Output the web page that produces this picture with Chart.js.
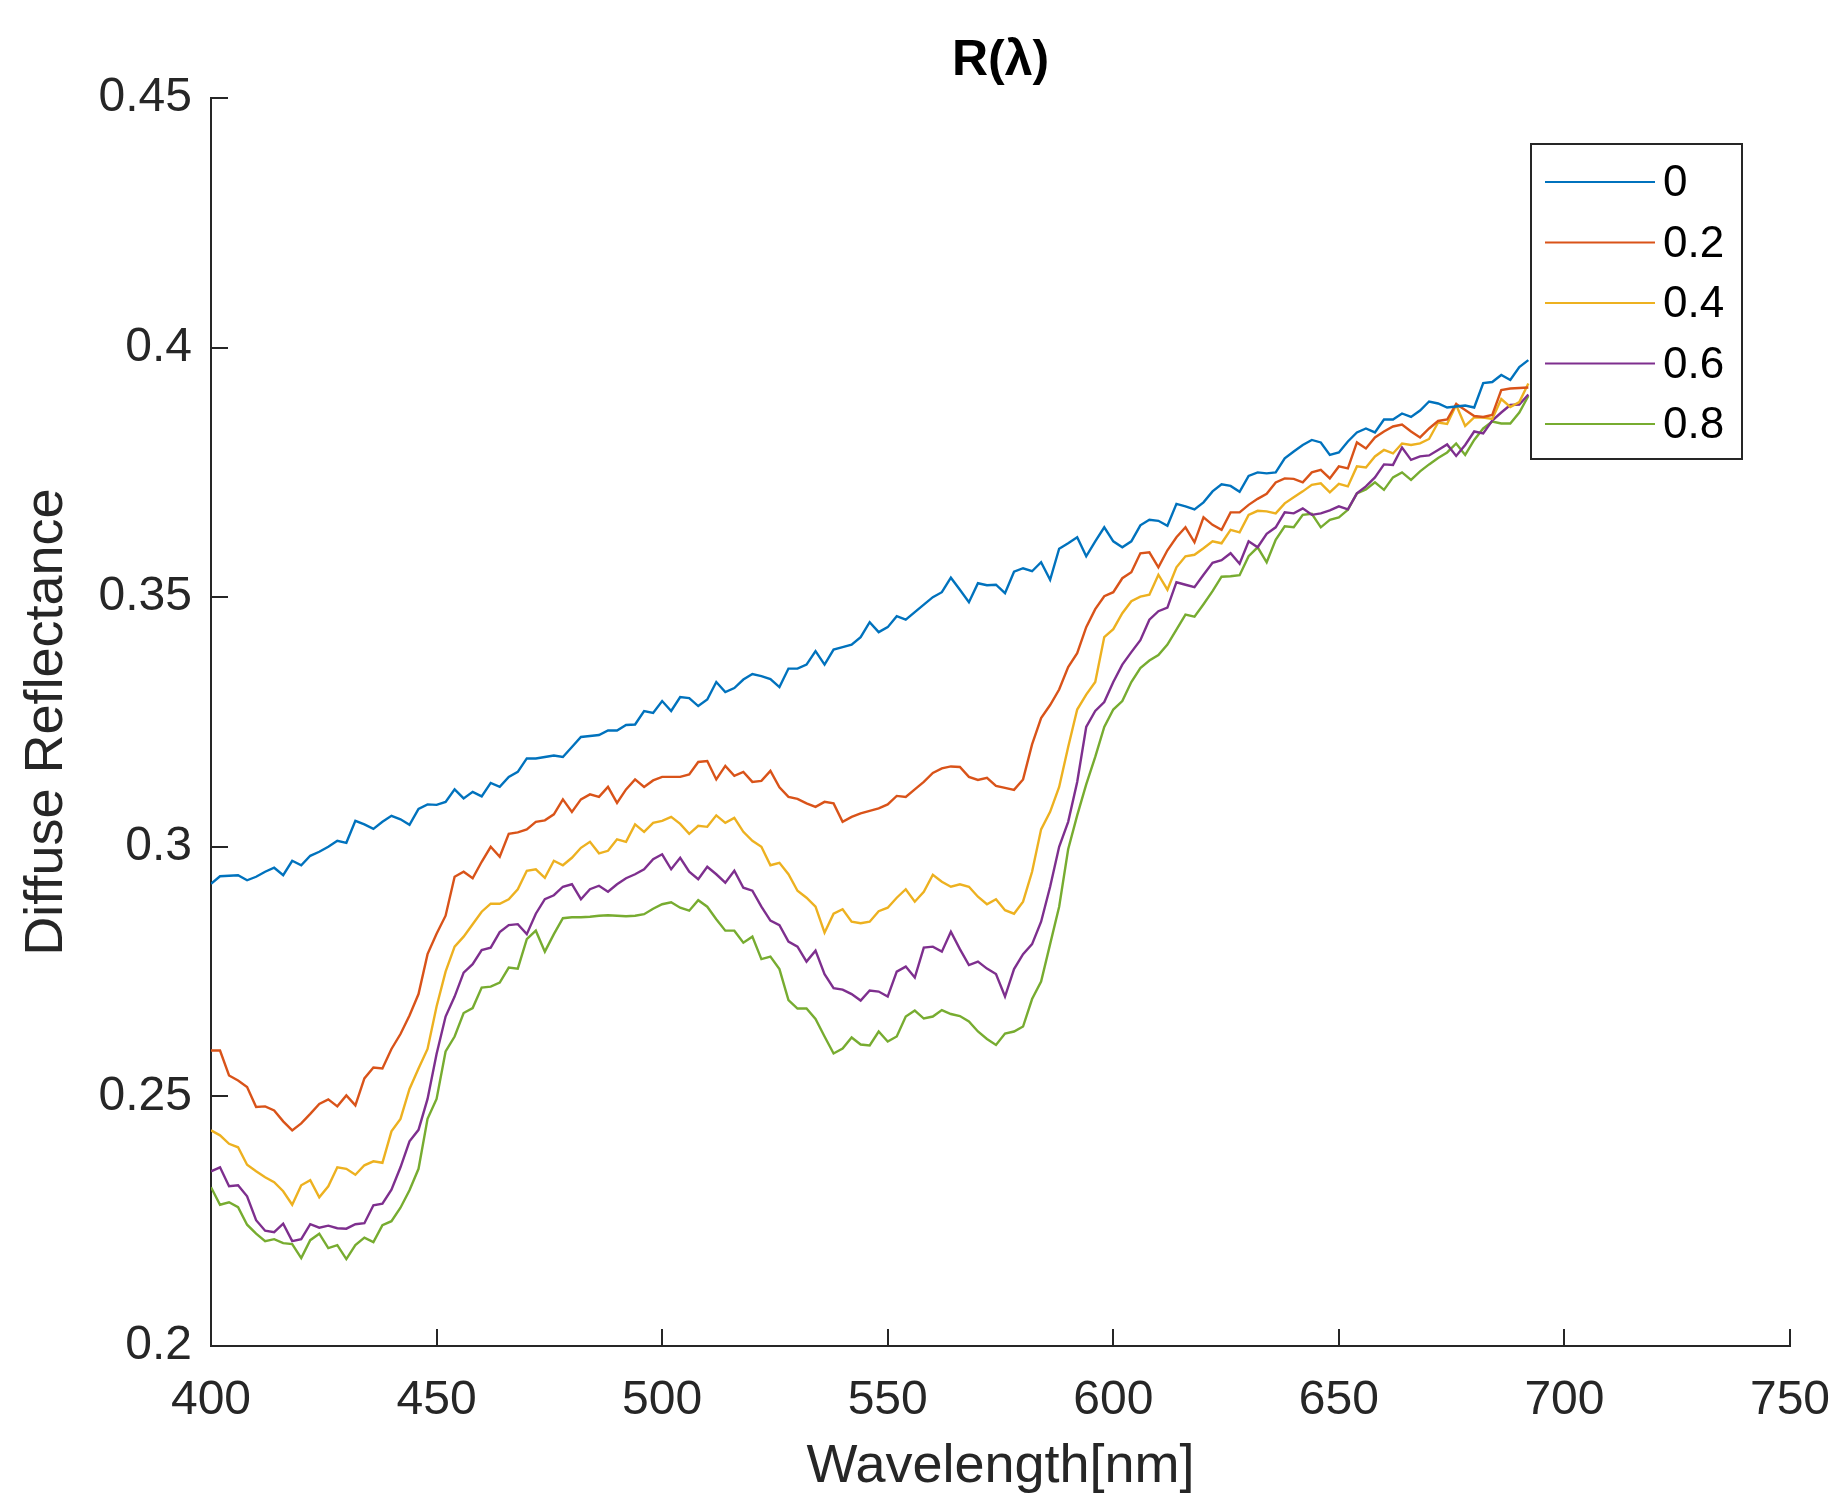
<!DOCTYPE html>
<html>
<head>
<meta charset="utf-8">
<script src="https://cdn.jsdelivr.net/npm/chart.js@4.4.1/dist/chart.umd.min.js"></script>
<style>
  html, body { margin: 0; padding: 0; background: #ffffff; }
  #wrap { width: 1829px; height: 1500px; }
</style>
</head>
<body>
<div id="wrap"><canvas id="c" width="1829" height="1500"></canvas></div>
<script>
// ---------------- data ----------------
const wavelengths = [];
for (let w = 400; w <= 692; w += 2) wavelengths.push(w);

const seriesLabels = ["0", "0.2", "0.4", "0.6", "0.8"];
const seriesColors = ["#0072BD", "#D95319", "#EDB120", "#7E2F8E", "#77AC30"];

const r0 = [
0.2926,0.2941,0.2942,0.2943,0.2933,0.2940,0.2950,0.2958,0.2943,0.2972,
0.2963,0.2982,0.2990,0.3000,0.3012,0.3008,0.3052,0.3045,0.3036,0.3050,
0.3062,0.3055,0.3044,0.3076,0.3085,0.3084,0.3090,0.3115,0.3097,0.3110,
0.3101,0.3128,0.3120,0.3140,0.3150,0.3177,0.3177,0.3180,0.3183,0.3180,
0.3200,0.3220,0.3222,0.3224,0.3233,0.3233,0.3244,0.3245,0.3272,0.3268,
0.3292,0.3272,0.3300,0.3298,0.3282,0.3295,0.3330,0.3310,0.3318,0.3335,
0.3346,0.3342,0.3336,0.3320,0.3357,0.3357,0.3365,0.3392,0.3365,0.3395,
0.3400,0.3405,0.3420,0.3450,0.3430,0.3440,0.3462,0.3455,0.3470,0.3485,
0.3500,0.3510,0.3539,0.3515,0.3490,0.3528,0.3524,0.3525,0.3508,0.3551,
0.3558,0.3552,0.3570,0.3535,0.3597,0.3608,0.3620,0.3582,0.3612,0.3640,
0.3612,0.3600,0.3612,0.3644,0.3655,0.3653,0.3643,0.3687,0.3682,0.3676,
0.3690,0.3712,0.3726,0.3723,0.3711,0.3743,0.3750,0.3748,0.3750,0.3778,
0.3792,0.3805,0.3815,0.3810,0.3785,0.3790,0.3812,0.3830,0.3838,0.3830,
0.3856,0.3856,0.3868,0.3861,0.3874,0.3892,0.3888,0.3880,0.3882,0.3884,
0.3880,0.3929,0.3931,0.3945,0.3935,0.3961,0.3975];

const r02 = [
0.2592,0.2592,0.2542,0.2532,0.2519,0.2479,0.2480,0.2472,0.2450,0.2432,
0.2446,0.2465,0.2485,0.2494,0.2480,0.2502,0.2482,0.2536,0.2558,0.2556,
0.2595,0.2625,0.2662,0.2705,0.2785,0.2826,0.2862,0.2940,0.2950,0.2937,
0.2970,0.3000,0.2980,0.3026,0.3029,0.3035,0.3050,0.3053,0.3065,0.3095,
0.3070,0.3095,0.3105,0.3100,0.3120,0.3088,0.3115,0.3135,0.3120,0.3133,
0.3140,0.3140,0.3140,0.3145,0.3170,0.3172,0.3135,0.3162,0.3142,0.3150,
0.3130,0.3132,0.3152,0.3119,0.3100,0.3096,0.3087,0.3080,0.3090,0.3087,
0.3050,0.3060,0.3067,0.3072,0.3077,0.3085,0.3102,0.3100,0.3115,0.3130,
0.3148,0.3157,0.3161,0.3160,0.3140,0.3134,0.3138,0.3122,0.3118,0.3114,
0.3135,0.3205,0.3258,0.3284,0.3315,0.3360,0.3388,0.3440,0.3476,0.3502,
0.3510,0.3538,0.3550,0.3588,0.3590,0.3560,0.3594,0.3620,0.3640,0.3610,
0.3660,0.3645,0.3635,0.3670,0.3670,0.3685,0.3697,0.3707,0.3730,0.3738,
0.3737,0.3730,0.3750,0.3755,0.3738,0.3762,0.3758,0.3810,0.3798,0.3820,
0.3832,0.3842,0.3846,0.3832,0.3820,0.3838,0.3853,0.3856,0.3887,0.3875,
0.3863,0.3861,0.3865,0.3915,0.3918,0.3919,0.3920];

const r04 = [
0.2432,0.2422,0.2405,0.2398,0.2363,0.2350,0.2338,0.2328,0.2310,0.2283,
0.2322,0.2332,0.2298,0.2320,0.2358,0.2355,0.2343,0.2362,0.2370,0.2367,
0.2430,0.2455,0.2515,0.2556,0.2595,0.2680,0.2750,0.2800,0.2820,0.2845,
0.2870,0.2886,0.2886,0.2895,0.2915,0.2952,0.2955,0.2938,0.2972,0.2963,
0.2978,0.2998,0.3010,0.2987,0.2992,0.3015,0.3010,0.3045,0.3030,0.3048,
0.3052,0.3060,0.3046,0.3026,0.3042,0.3040,0.3063,0.3048,0.3058,0.3030,
0.3012,0.3000,0.2963,0.2968,0.2945,0.2912,0.2898,0.2880,0.2828,0.2866,
0.2875,0.2850,0.2847,0.2850,0.2871,0.2878,0.2898,0.2915,0.2890,0.2910,
0.2944,0.2930,0.2920,0.2925,0.2920,0.2900,0.2885,0.2895,0.2873,0.2866,
0.2890,0.2950,0.3035,0.3070,0.3120,0.3200,0.3275,0.3305,0.3330,0.3420,
0.3436,0.3468,0.3492,0.3501,0.3505,0.3545,0.3515,0.3560,0.3582,0.3585,
0.3598,0.3612,0.3608,0.3635,0.3630,0.3665,0.3673,0.3672,0.3668,0.3688,
0.3700,0.3712,0.3725,0.3728,0.3710,0.3727,0.3722,0.3762,0.3760,0.3782,
0.3795,0.3788,0.3808,0.3805,0.3808,0.3817,0.3850,0.3847,0.3885,0.3843,
0.3860,0.3860,0.3857,0.3897,0.3881,0.3891,0.3928];

const r06 = [
0.2350,0.2358,0.2320,0.2322,0.2300,0.2252,0.2231,0.2228,0.2245,0.2210,
0.2214,0.2244,0.2237,0.2241,0.2236,0.2235,0.2244,0.2246,0.2282,0.2285,
0.2313,0.2358,0.2410,0.2433,0.2495,0.2585,0.2660,0.2700,0.2748,0.2765,
0.2793,0.2798,0.2829,0.2843,0.2845,0.2825,0.2866,0.2895,0.2903,0.2920,
0.2925,0.2895,0.2915,0.2922,0.2910,0.2925,0.2937,0.2945,0.2955,0.2975,
0.2985,0.2955,0.2978,0.2950,0.2935,0.2960,0.2945,0.2928,0.2952,0.2918,
0.2912,0.2880,0.2852,0.2843,0.2810,0.2800,0.2770,0.2792,0.2745,0.2717,
0.2714,0.2705,0.2692,0.2712,0.2710,0.2700,0.2750,0.2760,0.2738,0.2798,
0.2800,0.2790,0.2830,0.2795,0.2763,0.2770,0.2756,0.2745,0.2700,0.2755,
0.2785,0.2805,0.2850,0.2920,0.3000,0.3050,0.3130,0.3240,0.3272,0.3290,
0.3330,0.3365,0.3390,0.3414,0.3455,0.3472,0.3479,0.3530,0.3525,0.3520,
0.3545,0.3569,0.3574,0.3588,0.3567,0.3612,0.3600,0.3627,0.3640,0.3670,
0.3668,0.3678,0.3665,0.3668,0.3674,0.3682,0.3676,0.3708,0.3722,0.3740,
0.3766,0.3765,0.3800,0.3775,0.3782,0.3784,0.3795,0.3806,0.3783,0.3805,
0.3832,0.3828,0.3854,0.3870,0.3885,0.3886,0.3906];

const r08 = [
0.2318,0.2283,0.2288,0.2278,0.2243,0.2225,0.2210,0.2214,0.2206,0.2204,
0.2176,0.2212,0.2225,0.2196,0.2202,0.2174,0.2202,0.2217,0.2208,0.2242,
0.2250,0.2277,0.2312,0.2355,0.2455,0.2495,0.2590,0.2620,0.2667,0.2677,
0.2718,0.2720,0.2728,0.2758,0.2756,0.2815,0.2832,0.2790,0.2825,0.2857,
0.2859,0.2859,0.2860,0.2862,0.2863,0.2862,0.2861,0.2862,0.2865,0.2876,
0.2885,0.2889,0.2878,0.2872,0.2893,0.2880,0.2855,0.2832,0.2832,0.2808,
0.2820,0.2775,0.2780,0.2755,0.2693,0.2676,0.2676,0.2655,0.2620,0.2586,
0.2596,0.2618,0.2604,0.2602,0.2630,0.2610,0.2620,0.2660,0.2672,0.2656,
0.2660,0.2673,0.2665,0.2661,0.2650,0.2630,0.2615,0.2603,0.2626,0.2630,
0.2640,0.2695,0.2730,0.2805,0.2880,0.2995,0.3063,0.3125,0.3180,0.3240,
0.3275,0.3292,0.3330,0.3358,0.3373,0.3384,0.3405,0.3435,0.3465,0.3461,
0.3486,0.3512,0.3541,0.3542,0.3544,0.3582,0.3600,0.3570,0.3615,0.3642,
0.3640,0.3665,0.3667,0.3640,0.3655,0.3660,0.3675,0.3708,0.3716,0.3730,
0.3715,0.3740,0.3750,0.3735,0.3752,0.3766,0.3779,0.3790,0.3808,0.3785,
0.3815,0.3838,0.3852,0.3848,0.3848,0.3870,0.3903];

const seriesValues = [r0, r02, r04, r06, r08];

const xTicks = [400, 450, 500, 550, 600, 650, 700, 750];
const yTicks = [0.2, 0.25, 0.3, 0.35, 0.4, 0.45];

const titleText = "R(\u03bb)";
const xTitle = "Wavelength[nm]";
const yTitle = "Diffuse Reflectance";

// ---------------- chart ----------------
const FONT = "'Liberation Sans', Arial, Helvetica, sans-serif";
const INK = "#262626";

const datasets = seriesValues.map((vals, k) => ({
  label: seriesLabels[k],
  data: wavelengths.map((w, i) => ({ x: w, y: vals[i] })),
  borderColor: seriesColors[k],
  backgroundColor: seriesColors[k],
  borderWidth: 2.4,
  pointRadius: 0,
  tension: 0,
  fill: false
}));

const decor = {
  id: 'decor',
  beforeDraw(chart) {
    const ctx = chart.ctx;
    ctx.save();
    ctx.fillStyle = '#ffffff';
    ctx.fillRect(0, 0, chart.width, chart.height);
    ctx.restore();
  },
  afterDraw(chart) {
    const ctx = chart.ctx;
    const xs = chart.scales.x, ys = chart.scales.y;
    const a = chart.chartArea;
    ctx.save();
    // inward tick marks
    ctx.strokeStyle = INK;
    ctx.lineWidth = 2;
    ctx.beginPath();
    xTicks.forEach(v => {
      const px = Math.round(xs.getPixelForValue(v));
      ctx.moveTo(px, a.bottom);
      ctx.lineTo(px, a.bottom - 17);
    });
    yTicks.forEach(v => {
      const py = Math.round(ys.getPixelForValue(v));
      ctx.moveTo(a.left, py);
      ctx.lineTo(a.left + 17, py);
    });
    ctx.stroke();

    // title
    ctx.fillStyle = '#000000';
    ctx.font = "bold 50px " + FONT;
    ctx.textAlign = 'center';
    ctx.textBaseline = 'middle';
    ctx.fillText(titleText, (a.left + a.right) / 2, 61);

    // legend box
    const bx = 1531, by = 144, bw = 211, bh = 315;
    ctx.fillStyle = '#ffffff';
    ctx.fillRect(bx, by, bw, bh);
    ctx.strokeStyle = INK;
    ctx.lineWidth = 2;
    ctx.strokeRect(bx, by, bw, bh);
    ctx.font = "44px " + FONT;
    ctx.textAlign = 'left';
    ctx.textBaseline = 'middle';
    chart.data.datasets.forEach((ds, k) => {
      const ly = 182 + k * 60.5;
      ctx.strokeStyle = ds.borderColor;
      ctx.lineWidth = 2;
      ctx.beginPath();
      ctx.moveTo(1545, ly);
      ctx.lineTo(1655, ly);
      ctx.stroke();
      ctx.fillStyle = '#000000';
      ctx.fillText(ds.label, 1663, ly + 2);
    });
    ctx.restore();
  }
};

new Chart(document.getElementById('c'), {
  type: 'line',
  data: { datasets },
  plugins: [decor],
  options: {
    responsive: false,
    animation: false,
    layout: { padding: { top: 98, right: 0, bottom: 0, left: 0 } },
    plugins: {
      legend: { display: false },
      title: { display: false },
      tooltip: { enabled: false }
    },
    scales: {
      x: {
        type: 'linear',
        min: 400, max: 750,
        afterBuildTicks(scale) { scale.ticks = xTicks.map(v => ({ value: v })); },
        afterFit(scale) {
          scale.height = 154;
          scale.paddingLeft = 0;
          scale.paddingRight = 39;
        },
        grid: { display: false, drawTicks: false },
        border: { display: true, color: INK, width: 2 },
        ticks: {
          color: INK,
          font: { family: FONT, size: 48 },
          padding: 26,
          maxRotation: 0,
          callback: v => String(v)
        },
        title: {
          display: true,
          text: xTitle,
          color: INK,
          font: { family: FONT, size: 54 },
          padding: { top: 0, bottom: 0 }
        }
      },
      y: {
        type: 'linear',
        min: 0.2, max: 0.45,
        afterBuildTicks(scale) { scale.ticks = yTicks.map(v => ({ value: v })); },
        afterFit(scale) { scale.width = 211; },
        grid: { display: false, drawTicks: false },
        border: { display: true, color: INK, width: 2 },
        ticks: {
          color: INK,
          font: { family: FONT, size: 48 },
          padding: 19,
          callback: v => String(+v.toFixed(2))
        },
        title: {
          display: true,
          text: yTitle,
          color: INK,
          font: { family: FONT, size: 54 },
          padding: { top: 15, bottom: 0 }
        }
      }
    }
  }
});
</script>
</body>
</html>
